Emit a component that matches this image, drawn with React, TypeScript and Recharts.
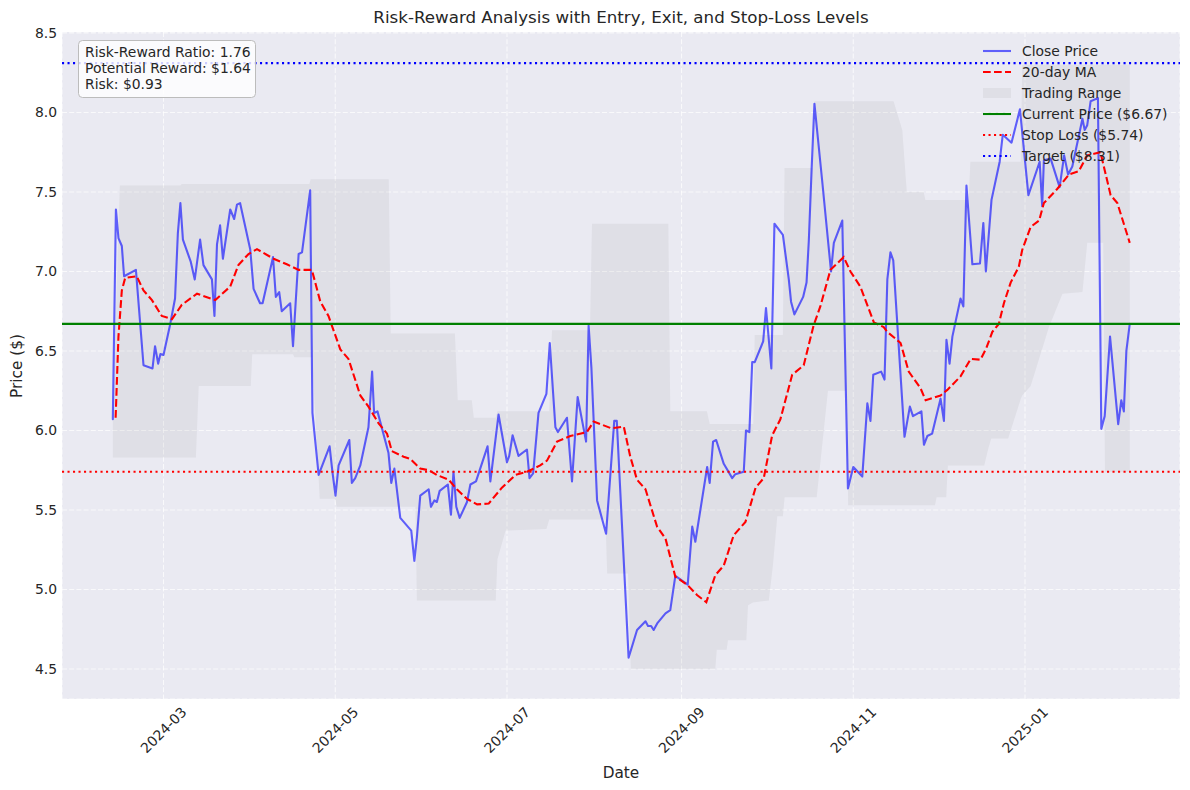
import React from "react";
import { ComposedChart, Line, Area, XAxis, YAxis, CartesianGrid, ReferenceLine } from "recharts";

// days are counted from 2024-02-12
const tickDays = [18, 79, 140, 202, 263, 324];
const tickLabels = ["2024-03", "2024-05", "2024-07", "2024-09", "2024-11", "2025-01"];
const priceTicks = [4.5, 5, 5.5, 6, 6.5, 7, 7.5, 8, 8.5];

// [day, close]
const closeSeries: [number, number][] = [
  [0, 6.07], [1.1, 7.39], [2, 7.21], [3.2, 7.16], [4, 6.97], [8.2, 7.01], [10.9, 6.41], [14.1, 6.39],
  [15, 6.53], [16.1, 6.42], [16.9, 6.48], [18, 6.475], [20.4, 6.67], [22.1, 6.83], [23.1, 7.24], [24, 7.43],
  [24.9, 7.2], [27.7, 7.06], [29.1, 6.95], [31, 7.2], [32.2, 7.04], [35.2, 6.95], [36.1, 6.72], [37, 7.17],
  [38.1, 7.29], [39.1, 7.08], [41.7, 7.39], [43.1, 7.33], [44.1, 7.42], [45.2, 7.43], [48.8, 7.14], [50, 6.89],
  [52.3, 6.8], [53.2, 6.8], [56.9, 7.09], [57.9, 6.84], [59.1, 6.87], [60, 6.75], [63, 6.8], [64, 6.53],
  [66, 7.11], [67.2, 7.12], [70.1, 7.51], [70.9, 6.11], [73.1, 5.72], [77, 5.9], [78, 5.74], [79.1, 5.59],
  [80.2, 5.78], [84, 5.94], [84.9, 5.67], [86.1, 5.7], [87.9, 5.78], [90.8, 6.02], [92.1, 6.37], [92.8, 6.11],
  [94, 6.12], [97.9, 5.86], [98.9, 5.67], [100, 5.76], [102.1, 5.45], [106, 5.37], [107.1, 5.18], [108, 5.33],
  [109.2, 5.59], [112.2, 5.63], [113, 5.52], [114.2, 5.56], [115.1, 5.55], [116.1, 5.62], [119, 5.66], [120.1, 5.47],
  [121, 5.74], [122, 5.52], [123.2, 5.45], [125.8, 5.55], [127, 5.66], [129, 5.68], [133.1, 5.9], [134.1, 5.68],
  [137, 6.1], [140, 5.8], [140.8, 5.84], [142, 5.97], [144.1, 5.84], [147.1, 5.88], [148, 5.7], [149.3, 5.73],
  [151.2, 6.11], [154, 6.23], [155.2, 6.55], [157.2, 6.02], [158.1, 5.99], [161.3, 6.08], [163.1, 5.68], [165.1, 6.21],
  [168.1, 5.93], [169, 6.66], [170, 6.39], [172, 5.56], [175.2, 5.35], [178.1, 6.06], [179, 6.06], [183.2, 4.57],
  [186.2, 4.745], [189.2, 4.8], [190.1, 4.77], [191.2, 4.77], [192.1, 4.745], [193.5, 4.79], [196.3, 4.85], [198, 4.87],
  [199.8, 5.085], [204.2, 5.03], [205.8, 5.395], [206.9, 5.3], [211.1, 5.77], [212, 5.67], [213.2, 5.93], [214.3, 5.94],
  [217, 5.79], [220, 5.7], [221.1, 5.725], [224.1, 5.74], [224.9, 6.0], [226.1, 5.99], [227.1, 6.43], [228, 6.43],
  [231, 6.56], [232, 6.77], [233.9, 6.39], [235, 7.3], [238, 7.23], [240.1, 6.95], [240.9, 6.81], [242.1, 6.73],
  [245.2, 6.84], [246.4, 6.93], [247.2, 7.19], [248.2, 7.64], [249.2, 8.055], [251.9, 7.58], [255.1, 7.0], [256.1, 7.18],
  [259.1, 7.32], [261.1, 5.635], [263, 5.77], [266.2, 5.71], [268, 6.17], [269.1, 6.06], [270.1, 6.35], [272.9, 6.37],
  [274.1, 6.32], [275.1, 6.95], [276.2, 7.12], [277.2, 7.07], [281.2, 5.96], [283.1, 6.15], [284.2, 6.09], [287.2, 6.12],
  [288.1, 5.91], [289.3, 5.965], [291, 5.98], [294, 6.2], [295.2, 6.06], [296.1, 6.57], [297.2, 6.42], [298.2, 6.59],
  [301.1, 6.83], [302.1, 6.78], [303.2, 7.54], [305.3, 7.045], [308, 7.05], [309.2, 7.305], [310.1, 7.0], [312.1, 7.45],
  [315, 7.69], [316.1, 7.86], [319.2, 7.81], [322.2, 8.02], [325.2, 7.48], [329.2, 7.69], [330.1, 7.41], [330.7, 7.7],
  [333.1, 7.71], [336.3, 7.53], [337.9, 7.73], [339.3, 7.61], [340.8, 7.66], [344.4, 7.96], [345.2, 7.89], [346.1, 7.92],
  [347.3, 8.07], [349.9, 8.09], [351.1, 6.01], [352.3, 6.09], [354.2, 6.59], [357.1, 6.04], [358.2, 6.19], [359.1, 6.12],
  [360, 6.5], [361.2, 6.67],
];

// [day, 20-day moving average]
const maSeries: [number, number][] = [
  [1, 6.08], [2, 6.59], [3.2, 6.88], [4.4, 6.96], [8.5, 6.97], [10.9, 6.88], [13.9, 6.82], [17.4, 6.72],
  [21, 6.7], [24.5, 6.79], [29.9, 6.86], [36.4, 6.82], [41.7, 6.905], [44.6, 7.04], [48.2, 7.11], [51.2, 7.14],
  [57.1, 7.08], [61.8, 7.045], [66, 7.01], [70.7, 7.01], [73.7, 6.81], [76.6, 6.72], [80.8, 6.51], [83.7, 6.45],
  [87.9, 6.22], [90.8, 6.15], [94.4, 6.045], [97.4, 5.98], [99.1, 5.87], [103.3, 5.835], [105.7, 5.82], [109.2, 5.76],
  [112.2, 5.75], [115.1, 5.72], [119.3, 5.69], [122.2, 5.63], [125.8, 5.57], [129.4, 5.535], [133.5, 5.54], [138.2, 5.64],
  [143, 5.72], [147.1, 5.74], [151.8, 5.78], [154.2, 5.81], [157.8, 5.93], [162.5, 5.965], [168.4, 5.99], [170.8, 6.056],
  [177, 6.014], [181.5, 6.024], [183.8, 5.835], [186.2, 5.69], [189.2, 5.63], [193.3, 5.395], [196.3, 5.32], [199.8, 5.08],
  [204, 5.03], [207.5, 4.965], [210.8, 4.92], [214, 5.09], [217, 5.15], [220.5, 5.34], [224.7, 5.425], [228.3, 5.64],
  [231.2, 5.7], [234.2, 5.97], [237.1, 6.07], [241.3, 6.35], [245.4, 6.41], [248.9, 6.66], [251.3, 6.78], [254.9, 7.01],
  [259.6, 7.09], [262, 7.0], [265.5, 6.905], [270.3, 6.68], [273.8, 6.65], [275.1, 6.62], [279.8, 6.55], [282.7, 6.37],
  [286.9, 6.265], [288.7, 6.19], [294, 6.22], [296.4, 6.255], [301.1, 6.34], [304.7, 6.45], [308.2, 6.445], [310.3, 6.52],
  [312.4, 6.62], [314.7, 6.67], [316.5, 6.8], [318.9, 6.93], [321.8, 7.03], [323, 7.135], [326, 7.28], [329, 7.32],
  [330.7, 7.43], [335.5, 7.52], [339.6, 7.61], [343.1, 7.63], [346.1, 7.73], [348.5, 7.74], [350.8, 7.75], [354.4, 7.48],
  [356.8, 7.43], [361.2, 7.18],
];

// [day, rolling low, rolling high]
const rangeSeries: [number, number, number][] = [
  [0, 5.83, 6.1], [2.5, 5.83, 7.54], [24, 5.83, 7.54], [24.5, 5.83, 7.55], [29.5, 5.83, 7.55], [30.5, 6.28, 7.55],
  [49, 6.28, 7.55], [49.5, 6.48, 7.55], [64, 6.48, 7.55], [64.5, 6.46, 7.55], [69.8, 6.46, 7.55], [70.3, 6.46, 7.58],
  [70.8, 6.46, 7.58], [73.5, 5.57, 7.58], [79, 5.57, 7.58], [79.5, 5.52, 7.58], [98, 5.52, 7.58], [98.7, 5.52, 6.61],
  [107.5, 5.52, 6.61], [108, 4.93, 6.61], [121.5, 4.93, 6.61], [122.5, 4.93, 6.19], [127.5, 4.93, 6.19], [128.2, 4.93, 6.08],
  [136, 4.93, 6.08], [136.6, 5.19, 6.12], [139.5, 5.37, 6.12], [154, 5.38, 6.12], [155, 5.44, 6.12], [156, 5.44, 6.63],
  [169.5, 5.44, 6.63], [170.2, 5.44, 7.3], [175, 5.44, 7.3], [175.6, 5.1, 7.3], [183, 5.1, 7.3], [184, 4.5, 7.3],
  [197.3, 4.5, 7.3], [198, 4.5, 6.12], [211, 4.5, 6.12], [212, 4.5, 6.04], [214, 4.5, 6.04], [214.5, 4.62, 6.04],
  [218, 4.62, 6.04], [218.5, 4.68, 6.04], [225, 4.68, 6.04], [225.6, 4.9, 6.04], [227.5, 4.92, 6.04], [228, 4.92, 6.6],
  [233, 4.93, 6.6], [234.5, 5.16, 6.6], [236, 5.46, 6.6], [238, 5.46, 6.6], [238.6, 5.58, 7.65], [248.5, 5.58, 7.65],
  [249.2, 5.58, 8.07], [250, 5.58, 8.07], [254, 6.25, 8.07], [260.5, 6.25, 8.07], [261.2, 5.53, 8.07], [277.3, 5.53, 8.07],
  [280.4, 5.53, 7.89], [282, 5.53, 7.5], [288, 5.53, 7.5], [288.6, 5.53, 7.45], [292, 5.53, 7.45], [292.6, 5.58, 7.45],
  [296, 5.58, 7.45], [296.6, 5.78, 7.45], [304, 5.78, 7.45], [304.6, 5.78, 7.69], [309.5, 5.78, 7.69], [311, 5.89, 7.69],
  [312, 5.95, 7.69], [318, 5.95, 7.69], [322.5, 6.2, 7.69], [323, 6.22, 8.3], [326, 6.28, 8.3], [332.5, 6.65, 8.3],
  [337.3, 6.86, 8.3], [344.4, 6.87, 8.3], [346.1, 7.18, 8.3], [351.8, 7.18, 8.3], [352.4, 5.74, 8.3], [361.2, 5.74, 8.3],
];

const currentPrice = 6.67;
const stopLoss = 5.74;
const targetPrice = 8.31;
const rewardRatio = 1.76;
const potentialReward = 1.64;
const riskAmount = 0.93;

const FONT = "'DejaVu Sans', sans-serif";
const TEXT = "#262626";

const DateTick = (props: any) => {
  const { x, payload } = props;
  const label = tickLabels[tickDays.indexOf(payload.value)];
  const cy = 730;
  return (
    <text x={x} y={cy} dy="0.35em" textAnchor="middle" transform={`rotate(-45 ${x} ${cy})`}
      fill={TEXT} fontSize={13.9} fontFamily={FONT}>
      {label}
    </text>
  );
};

const legendRows = [
  { label: "Close Price", kind: "close" },
  { label: "20-day MA", kind: "ma" },
  { label: "Trading Range", kind: "range" },
  { label: `Current Price ($${currentPrice.toFixed(2)})`, kind: "current" },
  { label: `Stop Loss ($${stopLoss.toFixed(2)})`, kind: "stop" },
  { label: `Target ($${targetPrice.toFixed(2)})`, kind: "target" },
];

const LegendHandle = ({ kind, y }: { kind: string; y: number }) => {
  const x1 = 983, x2 = 1011;
  if (kind === "range") return <rect x={x1} y={y - 5} width={x2 - x1} height={10} fill="#808080" fillOpacity={0.1} />;
  const styles: Record<string, any> = {
    close: { stroke: "#0000ff", strokeOpacity: 0.6 },
    ma: { stroke: "#ff0000", strokeDasharray: "7.7 3.3" },
    current: { stroke: "#008000" },
    stop: { stroke: "#ff0000", strokeDasharray: "2.1 3.4" },
    target: { stroke: "#0000ff", strokeDasharray: "2.1 3.4" },
  };
  return <line x1={x1} x2={x2} y1={y} y2={y} strokeWidth={2.1} {...styles[kind]} />;
};

export default function App() {
  const closeData = closeSeries.map(([d, v]) => ({ d, v }));
  const maData = maSeries.map(([d, v]) => ({ d, v }));
  const rangeData = rangeSeries.map(([d, lo, hi]) => ({ d, range: [lo, hi] }));

  return (
    <div style={{ position: "absolute", left: 0, top: 0, width: 1190, height: 790, background: "#fff", fontFamily: FONT }}>
      <ComposedChart width={1190} height={790} margin={{ top: 32, right: 10, bottom: 0, left: 10 }} style={{ fontFamily: FONT }}>
        <CartesianGrid fill="#EAEAF2" fillOpacity={1} stroke="#ffffff" strokeOpacity={0.7} strokeDasharray="5 2.2" strokeWidth={1.1} />
        <XAxis dataKey="d" type="number" domain={[-18.05, 379.05]} ticks={tickDays} allowDataOverflow
          tick={<DateTick />} tickLine={false} axisLine={false} height={91} />
        <YAxis type="number" domain={[4.311, 8.506]} ticks={priceTicks} allowDataOverflow width={52}
          tickLine={false} axisLine={false} tickSize={0} tickMargin={5}
          tick={{ fill: TEXT, fontSize: 13.9, fontFamily: FONT }} tickFormatter={(v: number) => v.toFixed(1)} />
        <Area data={rangeData} dataKey="range" type="linear" stroke="none" fill="#808080" fillOpacity={0.1}
          isAnimationActive={false} />
        <Line data={closeData} dataKey="v" type="linear" stroke="#0000ff" strokeOpacity={0.6} strokeWidth={2.1}
          dot={false} activeDot={false} isAnimationActive={false} strokeLinejoin="round" strokeLinecap="round" />
        <Line data={maData} dataKey="v" type="linear" stroke="#ff0000" strokeWidth={2.1} strokeDasharray="7.7 3.3"
          dot={false} activeDot={false} isAnimationActive={false} />
        <ReferenceLine y={currentPrice} stroke="#008000" strokeWidth={2.1} />
        <ReferenceLine y={stopLoss} stroke="#ff0000" strokeWidth={2.1} strokeDasharray="2.1 3.4" />
        <ReferenceLine y={targetPrice} stroke="#0000ff" strokeWidth={2.1} strokeDasharray="2.1 3.4" />
      </ComposedChart>

      <svg width={1190} height={790} style={{ position: "absolute", left: 0, top: 0, pointerEvents: "none" }}
        fontFamily={FONT} fill={TEXT}>
        <text x={621} y={23} textAnchor="middle" fontSize={16.7}>
          Risk-Reward Analysis with Entry, Exit, and Stop-Loss Levels
        </text>
        <text x={621} y={777.5} textAnchor="middle" fontSize={15.3}>Date</text>
        <text x={21.5} y={366} textAnchor="middle" fontSize={15.3} transform="rotate(-90 21.5 366)">Price ($)</text>

        <rect x={78.5} y={40.5} width={177} height={57} rx={4} fill="#ffffff" fillOpacity={0.8} stroke="#bcbcbc" />
        <text x={85} y={57} fontSize={13.9}>Risk-Reward Ratio: {rewardRatio.toFixed(2)}</text>
        <text x={85} y={73} fontSize={13.9}>Potential Reward: ${potentialReward.toFixed(2)}</text>
        <text x={85} y={89} fontSize={13.9}>Risk: ${riskAmount.toFixed(2)}</text>

        {legendRows.map((r, i) => {
          const y = 51 + i * 21;
          return (
            <g key={r.label}>
              <LegendHandle kind={r.kind} y={y} />
              <text x={1022} y={y} dy="0.36em" fontSize={13.9}>{r.label}</text>
            </g>
          );
        })}
      </svg>
    </div>
  );
}
